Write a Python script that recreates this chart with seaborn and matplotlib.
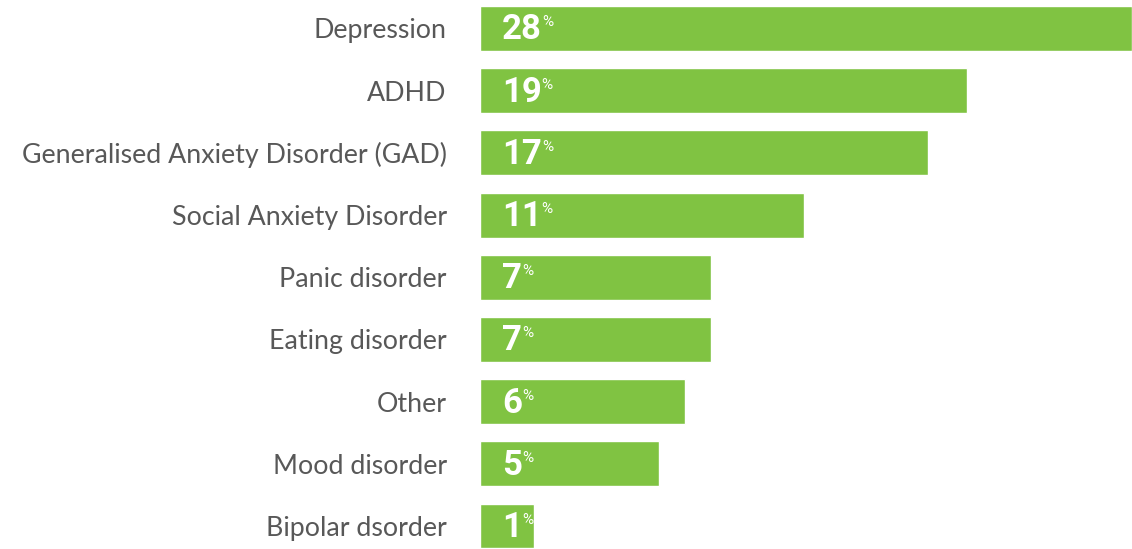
import matplotlib
matplotlib.use("Agg")
import matplotlib.pyplot as plt
import matplotlib.transforms as mtransforms
import numpy as np
import seaborn as sns

conditions = [
    "Depression",
    "ADHD",
    "Generalised Anxiety Disorder (GAD)",
    "Social Anxiety Disorder",
    "Panic disorder",
    "Eating disorder",
    "Other",
    "Mood disorder",
    "Bipolar dsorder",
]
shares = [28, 19, 17, 11, 7, 7, 6, 5, 1]

BAR_GREEN = "#80c342"
LABEL_GREY = "#585858"
NUM_FAMILY = ["Roboto", "DejaVu Sans"]

sns.set_theme(style="white")
plt.rcParams["font.family"] = ["Lato", "DejaVu Sans"]

fig = plt.figure(figsize=(11.32, 5.49), dpi=100)
ax = fig.add_axes([480 / 1132, 0.0, 652 / 1132, 1.0])

# Compressed power scale keeps the small categories readable
power = 0.75
ax.set_xscale("function", functions=(lambda x: np.sign(x) * np.abs(x) ** power,
                                     lambda x: np.sign(x) * np.abs(x) ** (1 / power)))

sns.barplot(x=shares, y=conditions, orient="h", color=BAR_GREEN,
            saturation=1, width=0.723, ax=ax)

ax.set_xlim(0, max(shares))
ax.set_ylim(len(conditions) - 1 + 0.37, -0.458)
ax.set_xlabel("")
ax.set_ylabel("")
ax.set_xticks([])
sns.despine(ax=ax, left=True, bottom=True)
ax.tick_params(axis="y", length=0, pad=24, labelsize=19.3, labelcolor=LABEL_GREY)

fig.canvas.draw()
renderer = fig.canvas.get_renderer()
for i, v in enumerate(shares):
    num_tr = mtransforms.offset_copy(ax.transData, fig=fig, x=22, y=-11, units="dots")
    t = ax.text(0, i, str(v), transform=num_tr, ha="left", va="baseline",
                color="white", fontsize=25, fontweight="bold", family=NUM_FAMILY)
    bb = t.get_window_extent(renderer)
    pct_tr = mtransforms.offset_copy(ax.transData, fig=fig,
                                     x=22 + bb.width, y=13, units="dots")
    ax.text(0, i, "%", transform=pct_tr, ha="left", va="top",
            color="white", fontsize=11, family=NUM_FAMILY)

fig.savefig("out.png", dpi=100, facecolor="white")
